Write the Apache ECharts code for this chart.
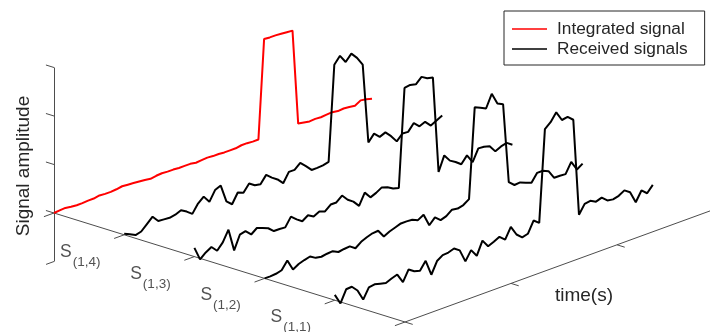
<!DOCTYPE html>
<html>
<head>
<meta charset="utf-8">
<script src="https://cdn.jsdelivr.net/npm/echarts@6/dist/echarts.min.js"></script>
<style>
  html, body { margin: 0; padding: 0; background: #fff; }
  #chart { width: 710px; height: 332px; }
</style>
</head>
<body>
<div id="chart"></div>
<script>
// samples along time axis (57 points over 0..3)
var sampleCount = 57;
var timeMax = 3;

// amplitudes, one array per trace
var integratedSignal = [0.00, 0.01, 0.02, 0.00, -0.01, -0.01, 0.00, 0.00, 0.02, 0.01,
  0.01, 0.02, 0.04, 0.03, 0.02, 0.01, 0.00, -0.02, 0.00, 0.01,
  0.00, 0.00, -0.01, -0.01, -0.01, -0.03, -0.02, -0.01, -0.02, -0.02,
  -0.03, -0.03, -0.03, -0.01, -0.01, -0.02, -0.02, 2.01, 2.00, 2.00,
  1.99, 1.98, 1.97, 0.01, -0.01, -0.03, -0.02, -0.03, -0.02, -0.01,
  -0.03, -0.02, -0.03, -0.05, 0.02, 0.00, -0.03];
var receivedS13 = [0.02, -0.03, -0.09, -0.06, 0.05, 0.16, 0.03, 0.02, 0.01, 0.03,
  0.08, 0.01, -0.08, 0.09, 0.19, 0.04, 0.24, 0.29, -0.08, -0.18,
  0.02, -0.03, 0.12, 0.04, 0.02, 0.17, 0.07, -0.01, -0.13, 0.06,
  0.06, 0.16, 0.05, -0.07, -0.07, -0.06, -0.03, 1.93, 2.07, 1.90,
  2.03, 1.90, 1.72, 0.07, 0.21, 0.10, 0.15, 0.03, -0.12, 0.00,
  -0.01, 0.13, 0.02, 0.07, -0.05, 0.01, 0.07];
var receivedS12 = [0.18, -0.10, 0.00, 0.07, -0.05, 0.08, 0.30, -0.17, 0.11, 0.14,
  0.03, 0.12, 0.08, 0.03, -0.07, -0.07, -0.08, 0.10, 0.00, -0.08,
  0.00, -0.07, -0.01, -0.05, 0.05, 0.05, 0.15, 0.02, -0.06, -0.19,
  0.04, -0.10, -0.05, 0.02, -0.02, -0.09, -0.12, 1.90, 1.92, 1.89,
  2.00, 1.93, 1.90, -0.09, 0.21, 0.06, -0.01, -0.10, 0.04, -0.14,
  0.10, 0.09, 0.06, -0.09, -0.03, 0.00, -0.08];
var receivedS11 = [0.00, 0.00, 0.01, 0.04, 0.20, -0.03, 0.04, 0.08, 0.11, 0.04,
  0.02, 0.04, 0.05, -0.01, 0.01, 0.02, -0.06, 0.03, 0.08, 0.12,
  0.13, -0.03, 0.03, 0.07, 0.11, 0.11, 0.10, 0.05, 0.12, -0.14,
  -0.02, -0.12, -0.08, 0.01, -0.01, 0.02, 0.10, 1.95, 1.90, 1.84,
  2.10, 1.86, 1.80, 0.15, 0.05, 0.06, 0.01, -0.03, 0.13, 0.13,
  0.08, -0.10, -0.10, -0.11, 0.10, -0.10, -0.02];
var receivedS10 = [0.11, -0.11, 0.14, 0.15, 0.03, -0.20, 0.01, 0.03, 0.00, -0.03,
  0.02, 0.06, -0.14, 0.08, 0.00, -0.03, 0.13, -0.20, 0.04, 0.12,
  0.13, 0.17, 0.09, -0.18, 0.01, -0.15, 0.12, -0.04, 0.01, 0.07,
  -0.03, 0.19, -0.01, -0.11, -0.08, 0.15, 0.06, 1.95, 2.05, 2.21,
  2.01, 2.03, 1.93, -0.07, 0.11, 0.13, 0.07, 0.11, 0.01, -0.01,
  0.02, 0.09, 0.01, -0.24, -0.04, -0.14, -0.01];

// tick values
var signalTicks = [0, 1, 2, 3, 4, 5];
var signalTickLabels = ['(1,4)', '(1,3)', '(1,2)', '(1,1)'];
var timeTicks = [0, 1, 2];
var ampTicks = [-1, 0, 1, 2, 3];

// 3d view: time runs up-right, signal index down-right, amplitude up
var origin = [54, 213];
var tVec = [106, -38.6];
var sVec = [70.2, 21.8];
var zVec = [0, -48.5];
function project(t, s, z) {
  return [origin[0] + t * tVec[0] + s * sVec[0] + z * zVec[0],
    origin[1] + t * tVec[1] + s * sVec[1] + z * zVec[1]];
}

var font = '"Liberation Sans", Arial, Helvetica, sans-serif';
var axisColor = '#4d4d4d';
var textColor = '#262626';

function trace(values, s) {
  return values.map(function (v, i) {
    return project(i * timeMax / (sampleCount - 1), s, v);
  });
}

// axis lines and tick marks
var axisSegs = [];
axisSegs.push({coords: [project(0, 0, ampTicks[0]), project(0, 0, ampTicks[ampTicks.length - 1])]});
axisSegs.push({coords: [project(0, 0, 0), project(0, 5, 0)]});
axisSegs.push({coords: [project(0, 5, 0), project(3.1, 5, 0)]});
ampTicks.forEach(function (z) {
  var end = z < 0 ? project(-0.075, 0, z) : project(0, -0.115, z);
  axisSegs.push({coords: [project(0, 0, z), end]});
});
signalTicks.forEach(function (s) {
  axisSegs.push({coords: [project(0, s, 0), project(-0.095, s, 0)]});
});
timeTicks.forEach(function (t) {
  axisSegs.push({coords: [project(t, 5, 0), project(t, 5.11, 0)]});
});

var labelPoints = signalTickLabels.map(function (lab, s) {
  return {value: project(0, s, 0), sub: lab};
});

var traceStyle = function (color) {
  return {
    type: 'line', symbol: 'none', silent: true,
    lineStyle: {color: color, width: 2}, itemStyle: {color: color}
  };
};

var series = [
  {
    name: 'axes', type: 'lines', coordinateSystem: 'cartesian2d', silent: true,
    lineStyle: {color: axisColor, width: 1, opacity: 1}, data: axisSegs
  },
  Object.assign(traceStyle('#ff0000'), {name: 'Integrated signal', data: trace(integratedSignal, 0)}),
  Object.assign(traceStyle('#000000'), {name: 'Received signals', data: trace(receivedS13, 1)}),
  Object.assign(traceStyle('#000000'), {name: 'Received signals', data: trace(receivedS12, 2)}),
  Object.assign(traceStyle('#000000'), {name: 'Received signals', data: trace(receivedS11, 3)}),
  Object.assign(traceStyle('#000000'), {name: 'Received signals', data: trace(receivedS10, 4)}),
  {
    name: 'ticklabels', type: 'scatter', symbolSize: 0, silent: true,
    data: labelPoints,
    label: {
      show: true, position: [6, 30], align: 'left', verticalAlign: 'top',
      formatter: function (p) { return '{s|S}{b|' + p.data.sub + '}'; },
      rich: {
        s: {fontFamily: font, fontSize: 17.5, lineHeight: 18, color: textColor, verticalAlign: 'top'},
        b: {fontFamily: font, fontSize: 13.5, lineHeight: 14, color: textColor, verticalAlign: 'top', padding: [12, 0, 0, 1]}
      }
    }
  }
];

var option = {
  animation: false,
  backgroundColor: '#fff',
  grid: {left: 0, right: 0, top: 0, bottom: 0},
  xAxis: {type: 'value', min: 0, max: 710, show: false},
  yAxis: {type: 'value', min: 0, max: 332, inverse: true, show: false},
  legend: {
    data: ['Integrated signal', 'Received signals'],
    orient: 'vertical', left: 504, top: 11,
    padding: [8, 17, 6, 8], itemGap: 0, itemWidth: 35, itemHeight: 1.5,
    icon: 'rect',
    borderColor: textColor, borderWidth: 1, borderRadius: 0, backgroundColor: '#fff',
    selectedMode: false,
    textStyle: {fontFamily: font, fontSize: 17.3, color: textColor, lineHeight: 20, padding: [0, 0, 0, 5]}
  },
  graphic: [
    {
      type: 'text', x: 24, y: 166, rotation: Math.PI / 2,
      style: {text: 'Signal amplitude', font: '19px ' + font, fill: textColor, align: 'center', verticalAlign: 'middle'}
    },
    {
      type: 'text', x: 584, y: 296,
      style: {text: 'time(s)', font: '19px ' + font, fill: textColor, align: 'center', verticalAlign: 'middle'}
    }
  ],
  series: series
};

var chart = echarts.init(document.getElementById('chart'));
chart.setOption(option);
</script>
</body>
</html>
